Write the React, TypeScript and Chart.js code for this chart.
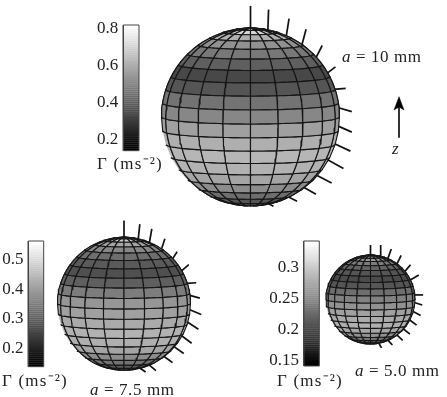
import React, { useEffect, useRef } from "react";
import { Chart, registerables } from "chart.js";

Chart.register(...registerables);

// ---- data ----
const latitudeEdges = [90, 81, 72, 63, 54, 45, 36, 27, 18, 9, 0, -9, -18, -27, -36, -45, -54, -63, -72, -81, -90];
const longitudeEdges = [-180, -162, -144, -126, -108, -90, -72, -54, -36, -18, 0, 18, 36, 54, 72, 90, 108, 126, 144, 162, 180];

const gamma10mm = [0.738, 0.711, 0.605, 0.525, 0.458, 0.391, 0.33, 0.365, 0.445, 0.498, 0.565, 0.605, 0.623, 0.613, 0.578, 0.511, 0.431, 0.365, 0.311, 0.271];
const gamma75mm = [0.522, 0.48, 0.414, 0.363, 0.322, 0.288, 0.272, 0.297, 0.347, 0.389, 0.405, 0.422, 0.435, 0.43, 0.414, 0.372, 0.33, 0.288, 0.255, 0.23];
const gamma50mm = [0.311, 0.292, 0.26, 0.24, 0.221, 0.209, 0.201, 0.209, 0.229, 0.244, 0.256, 0.268, 0.276, 0.28, 0.272, 0.256, 0.233, 0.213, 0.197, 0.185];

const rimAngle10 = [0, 11.4, 24, 35.7, 48, 60.3, 71.6, 83.8, 95.8, 107.6, 119, 131.5, 143, 155, 169];
const needleLen10 = [0.248, 0.226, 0.192, 0.177, 0.147, 0.109, 0.12, 0.15, 0.158, 0.188, 0.194, 0.18, 0.15, 0.105, 0.064];
const needleDir10 = [0, 2, 9, 15, 27, 53, 85, 106, 114, 115, 119, 117, 120, 117, 118];

const rimAngle75 = [0, 12.5, 22.7, 34.7, 47.4, 60.5, 72, 82.5, 95, 106, 119, 130.7, 143, 158, 166.7];
const needleLen75 = [0.25, 0.22, 0.205, 0.16, 0.12, 0.14, 0.135, 0.155, 0.18, 0.19, 0.18, 0.17, 0.155, 0.13, 0.105];
const needleDir75 = [0, 6, 10, 18, 33, 49, 86, 105, 113, 123, 127, 125, 126, 130, 125];

const rimAngle50 = [0, 12.6, 23, 36.8, 50.9, 64, 84, 94, 105.7, 117.5, 131.9, 143.5, 157, 169.5];
const needleLen50 = [0.226, 0.248, 0.226, 0.21, 0.195, 0.218, 0.188, 0.173, 0.188, 0.188, 0.18, 0.173, 0.143, 0.12];
const needleDir50 = [0, 3, 20, 26, 40, 59, 90, 107, 118, 127, 128, 133, 137, 150];

const barTicks10 = [0.2, 0.4, 0.6, 0.8];
const barTicks75 = [0.2, 0.3, 0.4, 0.5];
const barTicks50 = [0.15, 0.2, 0.25, 0.3];

const barRange10 = [0.138, 0.818];
const barRange75 = [0.138, 0.564];
const barRange50 = [0.142, 0.343];

const unitLabel = "Γ (ms⁻²)";
const sizeLabels = ["10", "7.5", "5.0"];

// ---- page layout ----
const W = 447;
const H = 397;
const ELEVATION = 4.5;
const LEVELS = 64;
const SERIF = "'Liberation Serif', serif";

const spheres = [
  { cx: 250.5, cy: 117, r: 89, gamma: gamma10mm, range: barRange10, rim: rimAngle10, len: needleLen10, dir: needleDir10, lw: 1.15 },
  { cx: 124, cy: 303.7, r: 66.5, gamma: gamma75mm, range: barRange75, rim: rimAngle75, len: needleLen75, dir: needleDir75, lw: 1.1 },
  { cx: 370.5, cy: 299.5, r: 44.5, gamma: gamma50mm, range: barRange50, rim: rimAngle50, len: needleLen50, dir: needleDir50, lw: 1.05 },
];

const bars = [
  { id: "g0", ticks: barTicks10, range: barRange10, x0: 123.3, x1: 139, top: 25, bottom: 150.7, tickRight: 118.3 },
  { id: "g1", ticks: barTicks75, range: barRange75, x0: 28.3, x1: 43.7, top: 241, bottom: 366.7, tickRight: 23.5 },
  { id: "g2", ticks: barTicks50, range: barRange50, x0: 303.7, x1: 319.3, top: 241, bottom: 366, tickRight: 299 },
];

const rad = (d: number) => (d * Math.PI) / 180;
const grayCss = (t: number) => {
  const g = Math.round(Math.max(0, Math.min(1, t)) * 255);
  return `rgb(${g},${g},${g})`;
};

function project(s: any, lat: number, lon: number) {
  const e = rad(ELEVATION);
  const p = rad(lat);
  const l = rad(lon);
  const up = Math.sin(p) * Math.cos(e) - Math.cos(p) * Math.cos(l) * Math.sin(e);
  const depth = Math.cos(p) * Math.cos(l) * Math.cos(e) + Math.sin(p) * Math.sin(e);
  return { x: s.cx + s.r * Math.cos(p) * Math.sin(l), y: s.cy - s.r * up, depth };
}

function base(extra: any) {
  return {
    showLine: true,
    pointRadius: 0,
    pointHitRadius: 0,
    tension: 0,
    clip: false,
    borderJoinStyle: "round",
    xAxisID: "x",
    yAxisID: "y",
    ...extra,
  };
}

function patchSets(s: any) {
  const out: any[] = [];
  for (let b = 0; b < s.gamma.length; b++) {
    const a0 = latitudeEdges[b];
    const a1 = latitudeEdges[b + 1];
    for (let m = 0; m + 1 < longitudeEdges.length; m++) {
      const l0 = longitudeEdges[m];
      const l1 = longitudeEdges[m + 1];
      const ring: { lat: number; lon: number }[] = [];
      const N = 6;
      for (let i = 0; i <= N; i++) ring.push({ lat: a0, lon: l0 + ((l1 - l0) * i) / N });
      for (let i = 1; i <= 3; i++) ring.push({ lat: a0 + ((a1 - a0) * i) / 3, lon: l1 });
      for (let i = 1; i <= N; i++) ring.push({ lat: a1, lon: l1 + ((l0 - l1) * i) / N });
      for (let i = 1; i <= 3; i++) ring.push({ lat: a1 + ((a0 - a1) * i) / 3, lon: l0 });
      const pts = ring.map((q) => project(s, q.lat, q.lon)).filter((q) => q.depth >= 0);
      if (pts.length < 3) continue;
      const mean = pts.reduce((t, q) => t + q.depth, 0) / pts.length;
      const t = (s.gamma[b] - s.range[0]) / (s.range[1] - s.range[0]);
      out.push({
        mean,
        set: base({
          data: pts.map((q) => ({ x: q.x, y: q.y })),
          fill: "shape",
          backgroundColor: grayCss(t),
          borderColor: "#161616",
          borderWidth: s.lw,
        }),
      });
    }
  }
  out.sort((p, q) => p.mean - q.mean);
  return out.map((p) => p.set);
}

function needleSets(s: any) {
  return s.rim.map((angle: number, i: number) => {
    const bx = s.cx + 0.985 * s.r * Math.sin(rad(angle));
    const by = s.cy - 0.985 * s.r * Math.cos(rad(angle));
    const L = s.len[i] * s.r + 0.015 * s.r;
    return base({
      data: [
        { x: bx, y: by },
        { x: bx + L * Math.sin(rad(s.dir[i])), y: by - L * Math.cos(rad(s.dir[i])) },
      ],
      borderColor: "#111",
      borderWidth: 1.7,
      fill: false,
    });
  });
}

function barSets(b: any) {
  const out: any[] = [];
  const [lo, hi] = b.range;
  for (let i = 0; i < LEVELS; i++) {
    const v0 = lo + ((hi - lo) * i) / LEVELS;
    const v1 = lo + ((hi - lo) * (i + 1.15)) / LEVELS;
    out.push(
      base({
        yAxisID: b.id,
        data: [
          { x: b.x0, y: v0 },
          { x: b.x1, y: v0 },
          { x: b.x1, y: Math.min(v1, hi) },
          { x: b.x0, y: Math.min(v1, hi) },
        ],
        fill: "shape",
        backgroundColor: grayCss(i / (LEVELS - 1)),
        borderWidth: 0,
        borderColor: "transparent",
      })
    );
  }
  out.push(
    base({
      yAxisID: b.id,
      data: [
        { x: b.x0, y: lo },
        { x: b.x1, y: lo },
        { x: b.x1, y: hi },
        { x: b.x0, y: hi },
        { x: b.x0, y: lo },
      ],
      fill: false,
      borderColor: "#444",
      borderWidth: 1,
    })
  );
  return out;
}

function arrowSets() {
  return [
    base({ data: [{ x: 399, y: 137.7 }, { x: 399, y: 104 }], borderColor: "#000", borderWidth: 1.6, fill: false }),
    base({
      data: [{ x: 399, y: 96.7 }, { x: 404, y: 110 }, { x: 399, y: 107 }, { x: 394, y: 110 }, { x: 399, y: 96.7 }],
      fill: "shape",
      backgroundColor: "#000",
      borderColor: "#000",
      borderWidth: 0.5,
    }),
  ];
}

const textPlugin = {
  id: "textLabels",
  afterDraw(chart: any) {
    const { ctx, scales } = chart;
    const px = (x: number) => scales.x.getPixelForValue(x);
    const py = (y: number) => scales.y.getPixelForValue(y);
    ctx.save();
    ctx.fillStyle = "#222";
    ctx.textBaseline = "middle";
    ctx.textAlign = "left";
    ctx.font = `17px ${SERIF}`;
    (ctx as any).letterSpacing = "1.2px";
    ctx.fillText(unitLabel, px(97), py(165));
    ctx.fillText(unitLabel, px(2), py(381.7));
    ctx.fillText(unitLabel, px(277), py(381.7));
    const sizeAt = [
      [342, 58],
      [90, 391],
      [355, 371.7],
    ];
    sizeLabels.forEach((v, i) => {
      const [x, y] = sizeAt[i];
      ctx.font = `italic 17px ${SERIF}`;
      (ctx as any).letterSpacing = "0.6px";
      ctx.fillText("a", px(x), py(y));
      const w = ctx.measureText("a").width;
      ctx.font = `17px ${SERIF}`;
      ctx.fillText(` = ${v} mm`, px(x) + w, py(y));
    });
    ctx.font = `italic 17px ${SERIF}`;
    ctx.textAlign = "center";
    ctx.fillText("z", px(395.7), py(150));
    ctx.restore();
  },
};

export default function App() {
  const ref = useRef<HTMLCanvasElement | null>(null);
  useEffect(() => {
    document.body.style.margin = "0";
    const paint: any[] = [];
    spheres.forEach((s) => {
      paint.push(...needleSets(s));
      paint.push(...patchSets(s));
    });
    bars.forEach((b) => paint.push(...barSets(b)));
    paint.push(...arrowSets());
    const datasets = paint.reverse();

    const scales: any = {
      x: { type: "linear", min: 0, max: W, display: false },
      y: { type: "linear", min: 0, max: H, reverse: true, display: false },
    };
    bars.forEach((b) => {
      const perUnit = (b.bottom - b.top) / (b.range[1] - b.range[0]);
      const max = b.range[1] + b.top / perUnit;
      scales[b.id] = {
        type: "linear",
        axis: "y",
        position: { x: b.tickRight },
        min: max - H / perUnit,
        max,
        grid: { display: false, drawTicks: false },
        border: { display: false },
        afterBuildTicks: (axis: any) => {
          axis.ticks = b.ticks.map((value: number) => ({ value }));
        },
        afterFit: (axis: any) => {
          axis.paddingTop = 0;
          axis.paddingBottom = 0;
        },
        ticks: {
          autoSkip: false,
          maxRotation: 0,
          padding: 0,
          color: "#222",
          font: { family: SERIF, size: 17 },
          callback: (v: number) => String(v),
        },
      };
    });

    const chart = new Chart(ref.current as HTMLCanvasElement, {
      type: "scatter",
      data: { datasets },
      options: {
        animation: false,
        responsive: false,
        events: [],
        layout: { padding: 0 },
        plugins: { legend: { display: false }, tooltip: { enabled: false } },
        scales,
      },
      plugins: [textPlugin],
    } as any);
    return () => chart.destroy();
  }, []);
  return (
    <canvas
      ref={ref}
      width={W}
      height={H}
      style={{ display: "block", width: W, height: H, filter: "blur(0.35px)" }}
    />
  );
}
